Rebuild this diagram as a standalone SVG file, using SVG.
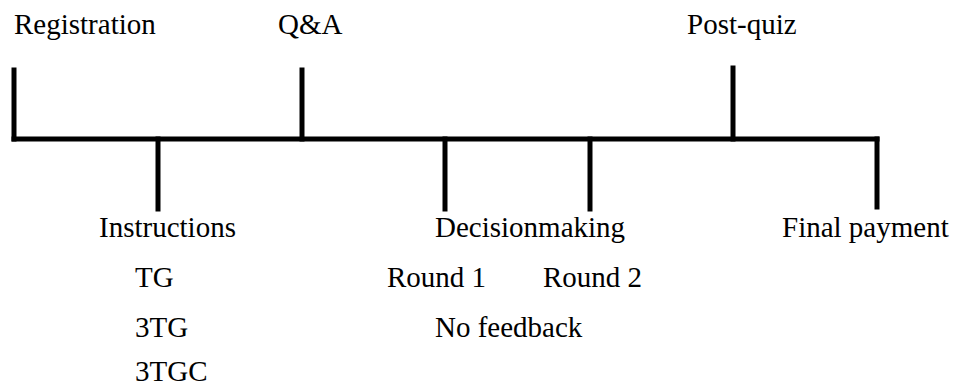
<svg xmlns="http://www.w3.org/2000/svg" width="953" height="389" viewBox="0 0 953 389">
<style>
.t{font-family:"Liberation Serif","Times New Roman",serif;font-size:29px;fill:#000}
.l{stroke:#000;stroke-width:5;fill:none;stroke-linecap:square}
</style>
<rect width="953" height="389" fill="#fff"/>
<g id="connectors">
<line class="l" x1="14" y1="139" x2="877" y2="139"/>
<line class="l" x1="14" y1="70" x2="14" y2="139"/>
<line class="l" x1="302" y1="70" x2="302" y2="139"/>
<line class="l" x1="733" y1="68" x2="733" y2="139"/>
<line class="l" x1="158" y1="139" x2="158" y2="209"/>
<line class="l" x1="445" y1="139" x2="445" y2="209"/>
<line class="l" x1="590" y1="139" x2="590" y2="209"/>
<line class="l" x1="877" y1="139" x2="877" y2="207"/>
</g>
<g id="registration"><text class="t" x="14" y="34">Registration</text></g>
<g id="qa"><text class="t" x="278" y="34">Q&amp;A</text></g>
<g id="postquiz"><text class="t" x="687" y="34">Post-quiz</text></g>
<g id="instructions">
<text class="t" x="99" y="237">Instructions</text>
<text class="t" x="135" y="287">TG</text>
<text class="t" x="135" y="337">3TG</text>
<text class="t" x="135" y="381">3TGC</text>
</g>
<g id="decisionmaking">
<text class="t" x="435" y="237">Decisionmaking</text>
<text class="t" x="387" y="287">Round 1</text>
<text class="t" x="543" y="287">Round 2</text>
<text class="t" x="435" y="337">No feedback</text>
</g>
<g id="finalpayment"><text class="t" x="782" y="237">Final payment</text></g>
</svg>
